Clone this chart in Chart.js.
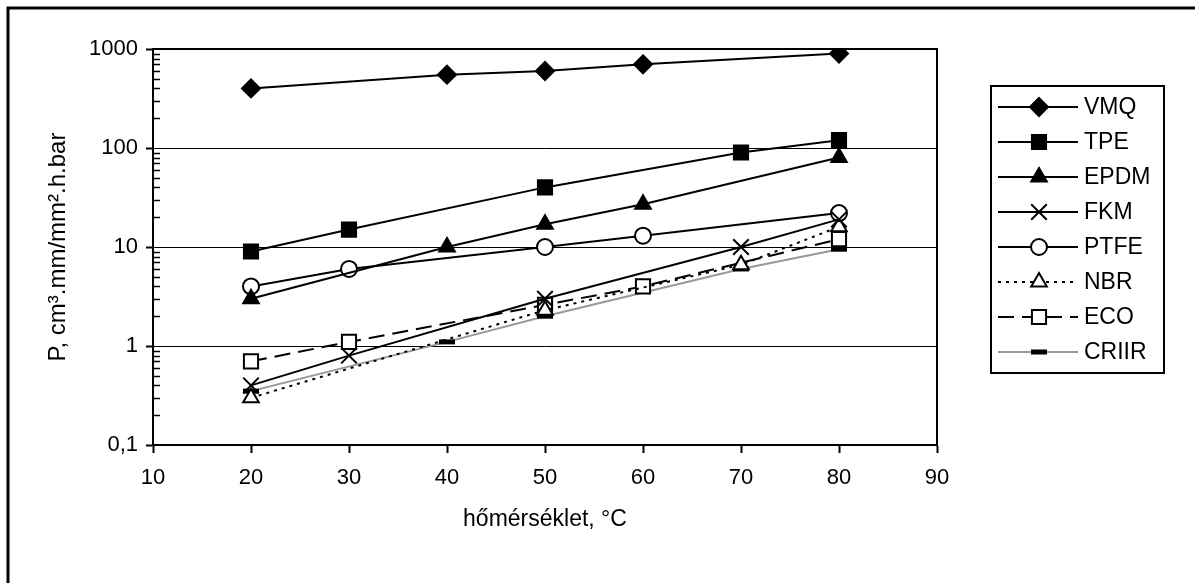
<!DOCTYPE html>
<html lang="hu">
<head>
<meta charset="UTF-8">
<title>Permeabilitás</title>
<script src="https://cdn.jsdelivr.net/npm/chart.js"></script>
<style>
  body { margin: 0; background: #fff; }
  #wrap { width: 1195px; height: 583px; }
</style>
</head>
<body>
<div id="wrap"><canvas id="chart"></canvas></div>
<script>
// temperatures (°C) and measured values, null = no marker at that temperature
const temps = [20, 30, 40, 50, 60, 70, 80];
const vmq   = [400, null, 550, 600, 700, null, 900];
const tpe   = [9, 15, null, 40, null, 90, 120];
const epdm  = [3, null, 10, 17, 27, null, 80];
const fkm   = [0.4, 0.8, null, 3, null, 10, 19];
const ptfe  = [4, 6, null, 10, 13, null, 22];
const nbr   = [0.3, null, null, 2.3, null, 6.6, 16];
const eco   = [0.7, 1.1, null, 2.6, 4, null, 12];
const criir = [0.35, null, 1.1, 2, null, 6, 9.5];
const yTicks = [0.1, 1, 10, 100, 1000];
const xTicks = [10, 20, 30, 40, 50, 60, 70, 80, 90];

const FONT = "'Liberation Sans', Arial, sans-serif";
Chart.defaults.font.family = FONT;
Chart.defaults.font.size = 22;
Chart.defaults.color = '#000';

function pts(vals) {
    return temps.map((t, i) => ({ x: t, y: vals[i] })).filter(p => p.y !== null);
}

function series(label, vals, style) {
    return Object.assign({
        label: label,
        data: pts(vals),
        borderColor: '#000',
        borderWidth: 2,
        pointBorderColor: '#000',
        pointBorderWidth: 2,
        pointBackgroundColor: '#000',
        tension: 0
    }, style);
}

const datasets = [
    series('VMQ', vmq, { pointStyle: 'rectRot', pointRadius: 9 }),
    series('TPE', tpe, { pointStyle: 'rect', pointRadius: 10 }),
    series('EPDM', epdm, { pointStyle: 'triangle', pointRadius: 9 }),
    series('FKM', fkm, { pointStyle: 'crossRot', pointRadius: 11 }),
    series('PTFE', ptfe, { pointStyle: 'circle', pointRadius: 8, pointBackgroundColor: '#fff' }),
    series('NBR', nbr, { pointStyle: 'triangle', pointRadius: 9, pointBackgroundColor: '#fff', borderDash: [3, 5] }),
    series('ECO', eco, { pointStyle: 'rect', pointRadius: 10, pointBackgroundColor: '#fff', borderDash: [16, 8] }),
    series('CRIIR', criir, { pointStyle: 'line', pointRadius: 8, pointBorderWidth: 5, borderColor: '#999' })
];

// frame, inner minor ticks and the boxed legend
const extras = {
    id: 'extras',
    beforeDraw(chart) {
        const c = chart.ctx;
        c.save();
        c.fillStyle = '#fff';
        c.fillRect(0, 0, chart.width, chart.height);
        c.strokeStyle = '#000';
        c.lineWidth = 3;
        c.beginPath();
        c.moveTo(8, chart.height);
        c.lineTo(8, 8);
        c.lineTo(chart.width, 8);
        c.stroke();
        c.restore();
    },
    afterDraw(chart) {
        const c = chart.ctx;
        const a = chart.chartArea;
        const y = chart.scales.y;
        c.save();
        c.strokeStyle = '#000';
        c.lineWidth = 2;
        c.beginPath();
        c.moveTo(a.left, a.top);
        c.lineTo(a.right, a.top);
        c.lineTo(a.right, a.bottom);
        c.stroke();

        c.lineWidth = 1.5;
        c.beginPath();
        for (const d of [0.1, 1, 10, 100]) {
            for (let k = 2; k <= 9; k++) {
                const py = Math.round(y.getPixelForValue(d * k)) + 0.5;
                c.moveTo(a.left, py);
                c.lineTo(a.left + 7, py);
            }
        }
        c.stroke();

        // legend
        c.lineWidth = 2;
        c.strokeRect(991, 86, 173, 287);
        c.font = '23px ' + FONT;
        c.textBaseline = 'middle';
        c.textAlign = 'left';
        chart.data.datasets.forEach((ds, i) => {
            const ly = 107 + 35 * i;
            c.save();
            c.strokeStyle = ds.borderColor;
            c.lineWidth = 2;
            c.setLineDash(ds.borderDash || []);
            c.beginPath();
            c.moveTo(998, ly);
            c.lineTo(1078, ly);
            c.stroke();
            c.restore();
            c.save();
            c.fillStyle = ds.pointBackgroundColor;
            c.strokeStyle = ds.pointBorderColor;
            c.lineWidth = ds.pointBorderWidth;
            Chart.helpers.drawPoint(c, {
                pointStyle: ds.pointStyle, radius: ds.pointRadius,
                borderWidth: ds.pointBorderWidth, rotation: 0
            }, 1039, ly);
            c.restore();
            c.fillStyle = '#000';
            c.fillText(ds.label, 1084, ly + 1);
        });
        c.restore();
    }
};

new Chart(document.getElementById('chart'), {
    type: 'line',
    data: { datasets: datasets },
    options: {
        responsive: true,
        maintainAspectRatio: false,
        animation: false,
        events: [],
        layout: { padding: { top: 49, right: 258, bottom: 10, left: 10 } },
        plugins: { legend: { display: false }, tooltip: { enabled: false } },
        scales: {
            x: {
                type: 'linear',
                min: 10,
                max: 90,
                afterBuildTicks: s => { s.ticks = xTicks.map(v => ({ value: v })); },
                afterFit: s => { s.height = 128; },
                ticks: { padding: 12, maxRotation: 0 },
                grid: { drawOnChartArea: false, drawTicks: true, tickLength: 8, tickColor: '#000', tickWidth: 2 },
                border: { display: true, color: '#000', width: 2 },
                title: { display: true, text: 'hőmérséklet, °C', font: { size: 23 }, padding: { top: 0, bottom: 40 } }
            },
            y: {
                type: 'logarithmic',
                min: 0.1,
                max: 1000,
                afterBuildTicks: s => { s.ticks = yTicks.map(v => ({ value: v, major: true })); },
                afterFit: s => { s.width = 143; },
                ticks: { padding: 8, callback: v => String(v).replace('.', ',') },
                grid: { color: '#000', lineWidth: 1, drawTicks: true, tickLength: 7, tickColor: '#000', tickWidth: 2 },
                border: { display: true, color: '#000', width: 2 },
                title: { display: true, text: 'P, cm³.mm/mm².h.bar', font: { size: 24 }, padding: { top: 34, bottom: 0 } }
            }
        }
    },
    plugins: [extras]
});
</script>
</body>
</html>
